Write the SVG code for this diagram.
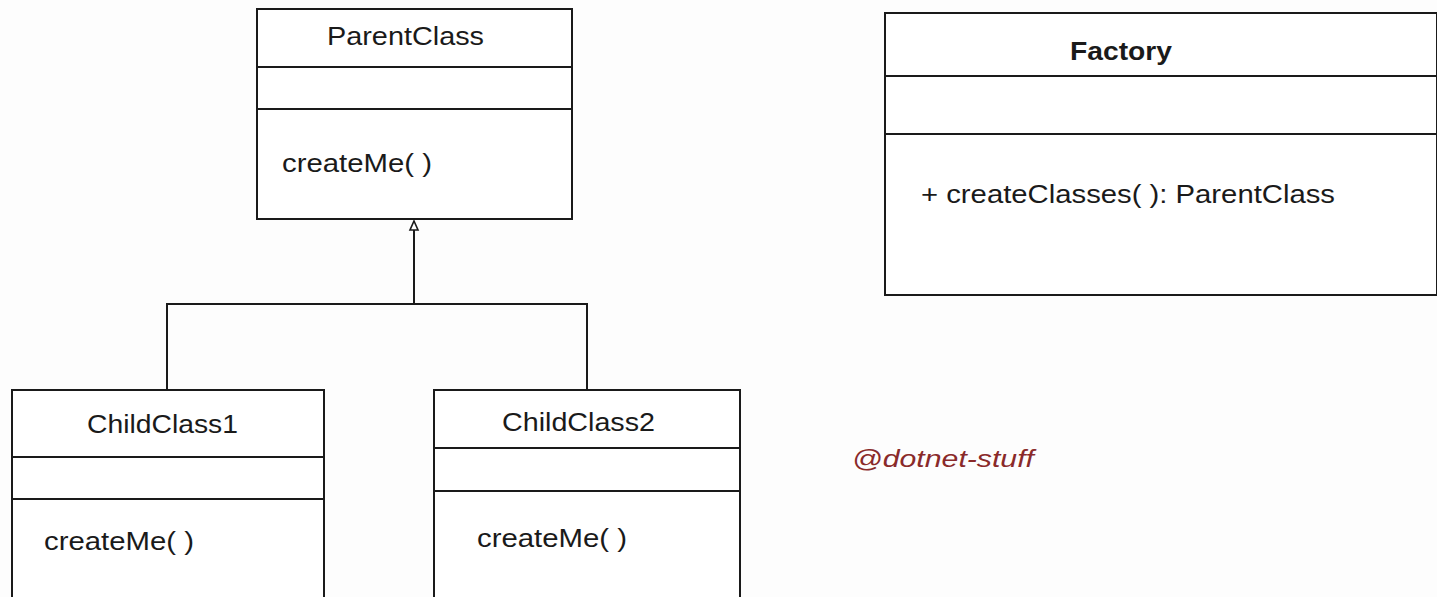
<svg xmlns="http://www.w3.org/2000/svg" width="1437" height="597" viewBox="0 0 1437 597">
  <style>
    .box { fill: #ffffff; stroke: #1a1a1a; stroke-width: 2; }
    .sep { stroke: #1a1a1a; stroke-width: 2; }
    .txt { font-family: "Liberation Sans", Arial, sans-serif; font-size: 25px; fill: #1a1a1a; }
    .bold { font-weight: bold; }
    .link { fill: none; stroke: #1a1a1a; stroke-width: 2; }
    .mark { font-family: "Liberation Sans", Arial, sans-serif; font-size: 24px; font-style: italic; fill: #8a2a2a; }
  </style>
  <defs>
    <!-- hollow generalization head, drawn upright -->
    <marker id="inherit" markerWidth="12" markerHeight="12" refX="5" refY="1" orient="0" markerUnits="userSpaceOnUse" viewBox="0 0 10 12">
      <path d="M5,1 L9,10 L1,10 Z" fill="#ffffff" stroke="#1a1a1a" stroke-width="1.6"/>
    </marker>
  </defs>
  <rect width="1437" height="597" fill="#fdfdfd"/>

  <!-- generalization connectors -->
  <g id="connectors">
    <path class="link" d="M414,304 L414,221" marker-end="url(#inherit)"/>
    <path class="link" d="M167,390 L167,304 L587,304 L587,390"/>
  </g>

  <g id="parentclass">
    <rect class="box" x="257" y="9" width="315" height="210"/>
    <line class="sep" x1="257" y1="67" x2="572" y2="67"/>
    <line class="sep" x1="257" y1="109" x2="572" y2="109"/>
    <text class="txt" x="327" y="45" textLength="157" lengthAdjust="spacingAndGlyphs">ParentClass</text>
    <text class="txt" x="282" y="172" textLength="150" lengthAdjust="spacingAndGlyphs">createMe( )</text>
  </g>

  <g id="factory">
    <rect class="box" x="885" y="13" width="552" height="282"/>
    <line class="sep" x1="885" y1="76" x2="1437" y2="76"/>
    <line class="sep" x1="885" y1="134" x2="1437" y2="134"/>
    <text class="txt bold" x="1070" y="60" textLength="102" lengthAdjust="spacingAndGlyphs">Factory</text>
    <text class="txt" x="921" y="203" textLength="414" lengthAdjust="spacingAndGlyphs">+ createClasses( ): ParentClass</text>
  </g>

  <g id="childclass1">
    <rect class="box" x="12" y="390" width="312" height="230"/>
    <line class="sep" x1="12" y1="457" x2="324" y2="457"/>
    <line class="sep" x1="12" y1="499" x2="324" y2="499"/>
    <text class="txt" x="87" y="433" textLength="151" lengthAdjust="spacingAndGlyphs">ChildClass1</text>
    <text class="txt" x="44" y="550" textLength="150" lengthAdjust="spacingAndGlyphs">createMe( )</text>
  </g>

  <g id="childclass2">
    <rect class="box" x="434" y="390" width="306" height="230"/>
    <line class="sep" x1="434" y1="448" x2="740" y2="448"/>
    <line class="sep" x1="434" y1="491" x2="740" y2="491"/>
    <text class="txt" x="502" y="431" textLength="153" lengthAdjust="spacingAndGlyphs">ChildClass2</text>
    <text class="txt" x="477" y="547" textLength="150" lengthAdjust="spacingAndGlyphs">createMe( )</text>
  </g>

  <text class="mark" x="852" y="467" textLength="182" lengthAdjust="spacingAndGlyphs">@dotnet-stuff</text>
</svg>
